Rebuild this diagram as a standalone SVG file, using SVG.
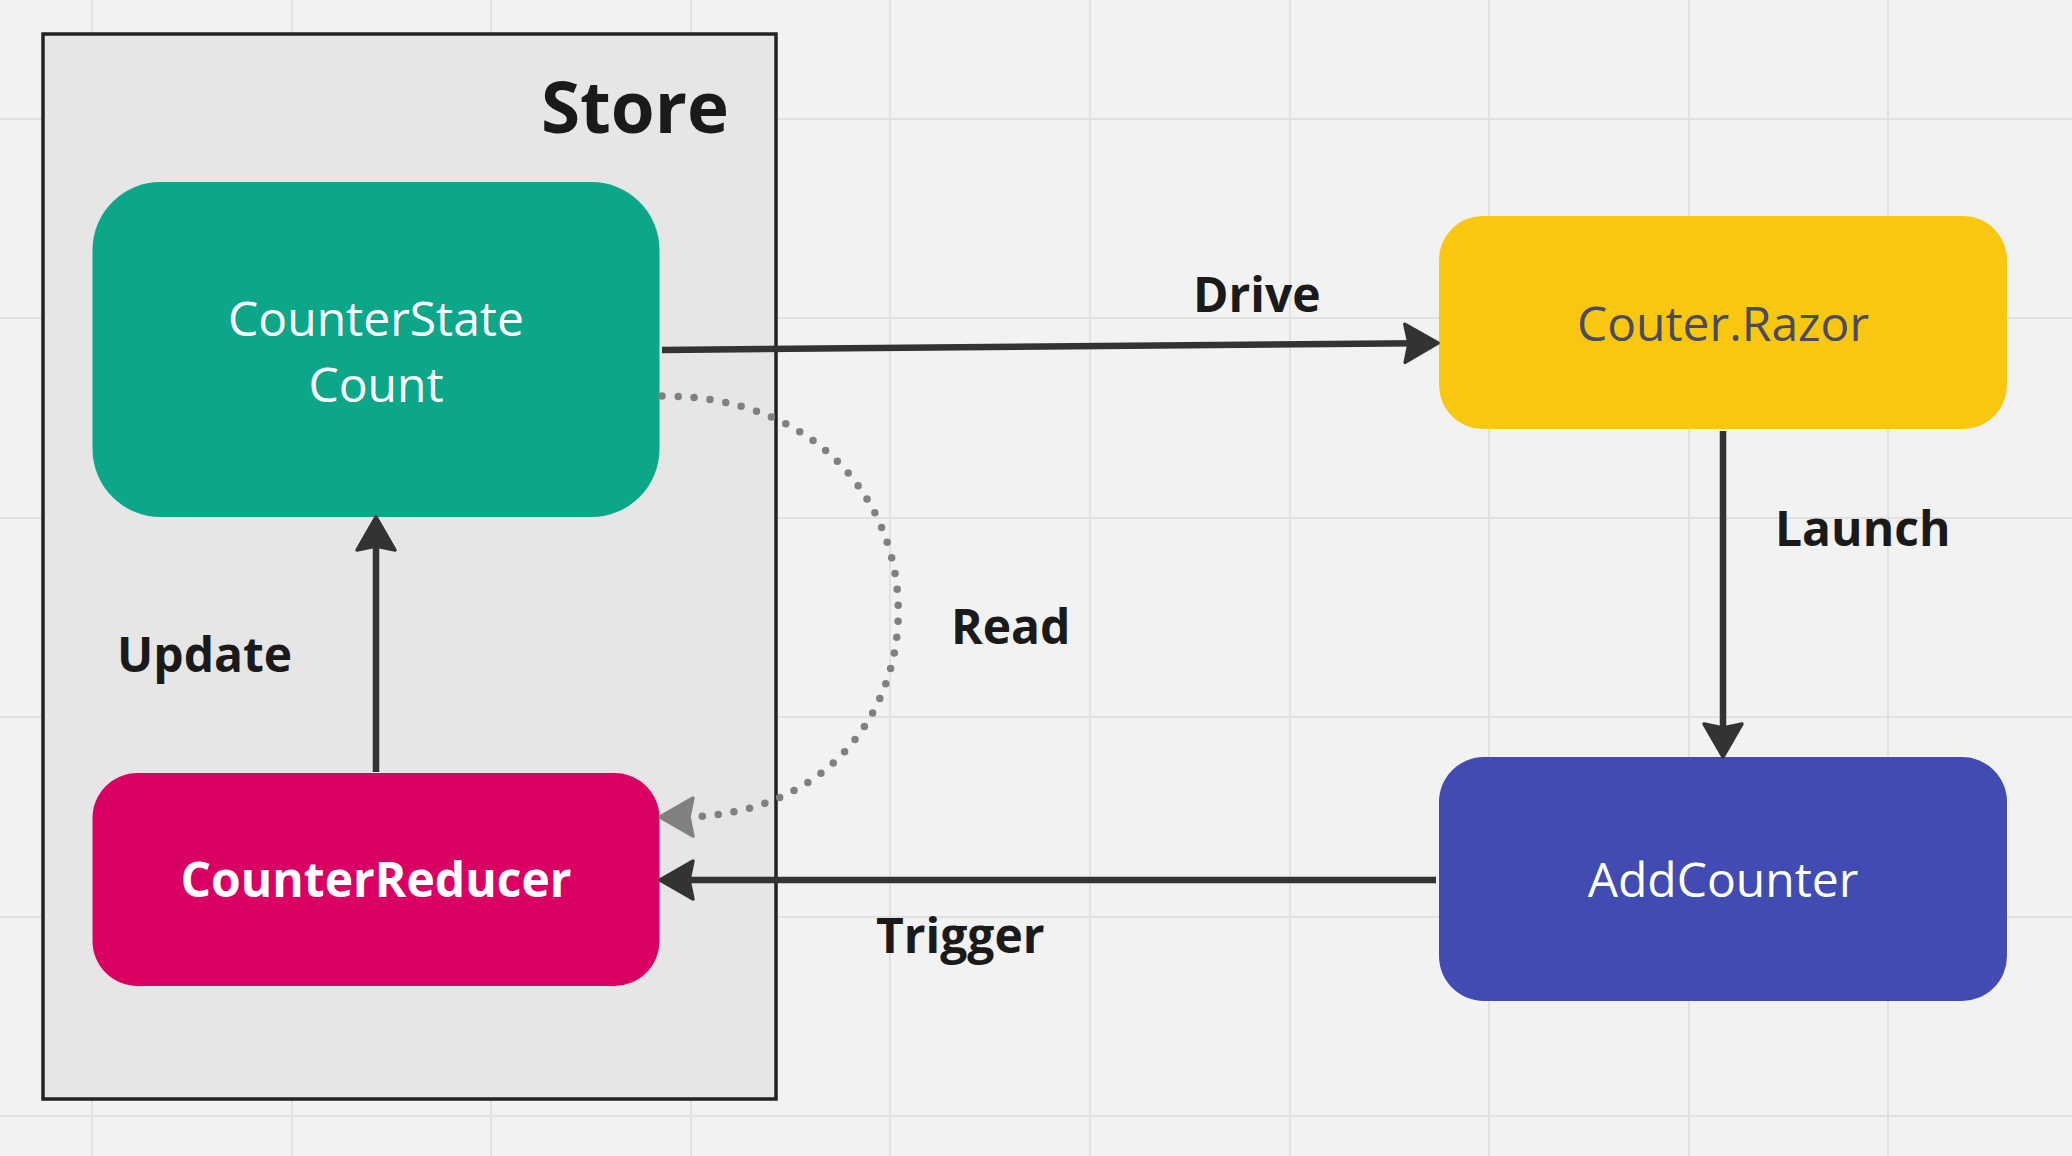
<svg xmlns="http://www.w3.org/2000/svg" width="2072" height="1156" viewBox="0 0 2072 1156">
<style>
.grid line{stroke:#e1e1e1;stroke-width:2}
.nt{font-family:"Open Sans","Noto Sans","Liberation Sans",sans-serif;font-size:48px;text-anchor:middle}
.lbl{font-family:"Open Sans","Noto Sans","Liberation Sans",sans-serif;font-size:48px;font-weight:700;fill:#1a1a1a}
.conn{fill:none;stroke:#333333;stroke-width:6.5}
</style>
<defs>
<marker id="ah" viewBox="-2 -2 40 46" markerWidth="40" markerHeight="46" refX="14" refY="21" orient="auto" markerUnits="userSpaceOnUse" overflow="visible">
<path d="M1,2 L34,21 L1,40 L5,21 Z" fill="#333333" stroke="#333333" stroke-width="3.5" stroke-linejoin="round"/>
</marker>
<marker id="ahg" viewBox="-2 -2 40 46" markerWidth="40" markerHeight="46" refX="14" refY="21" orient="auto" markerUnits="userSpaceOnUse" overflow="visible">
<path d="M1,2 L34,21 L1,40 L5,21 Z" fill="#808080" stroke="#808080" stroke-width="3.5" stroke-linejoin="round"/>
</marker>
</defs>
<rect x="0" y="0" width="2072" height="1156" fill="#f2f2f2"/>
<g class="grid">
<line x1="92" y1="0" x2="92" y2="1156"/>
<line x1="292" y1="0" x2="292" y2="1156"/>
<line x1="491" y1="0" x2="491" y2="1156"/>
<line x1="691" y1="0" x2="691" y2="1156"/>
<line x1="890" y1="0" x2="890" y2="1156"/>
<line x1="1090" y1="0" x2="1090" y2="1156"/>
<line x1="1290" y1="0" x2="1290" y2="1156"/>
<line x1="1489" y1="0" x2="1489" y2="1156"/>
<line x1="1689" y1="0" x2="1689" y2="1156"/>
<line x1="1888" y1="0" x2="1888" y2="1156"/>
<line x1="0" y1="119" x2="2072" y2="119"/>
<line x1="0" y1="318" x2="2072" y2="318"/>
<line x1="0" y1="518" x2="2072" y2="518"/>
<line x1="0" y1="717" x2="2072" y2="717"/>
<line x1="0" y1="917" x2="2072" y2="917"/>
<line x1="0" y1="1116" x2="2072" y2="1116"/>
</g>
<g id="store">
<rect x="43" y="34" width="733" height="1065" fill="#e6e6e6" stroke="#222222" stroke-width="3.5"/>
<text x="729" y="133" font-family="'Open Sans','Noto Sans','Liberation Sans',sans-serif" font-size="71" font-weight="700" fill="#1a1a1a" text-anchor="end">Store</text>
</g>
<g id="counterstate">
<rect x="92.5" y="182" width="567" height="335" rx="68" ry="68" fill="#0ca789"/>
<text class="nt" x="376" y="336" fill="#ffffff">CounterState</text>
<text class="nt" x="376" y="402" fill="#ffffff">Count</text>
</g>
<g id="counterreducer">
<rect x="92.5" y="773" width="567" height="213" rx="45" ry="45" fill="#da0063"/>
<text class="nt" x="376" y="897" fill="#ffffff" font-weight="700">CounterReducer</text>
</g>
<g id="couterrazor">
<rect x="1439" y="216" width="568" height="213" rx="44" ry="44" fill="#fac710"/>
<text class="nt" x="1723" y="341" fill="#4b4b60">Couter.Razor</text>
</g>
<g id="addcounter">
<rect x="1439" y="757" width="568" height="244" rx="45" ry="45" fill="#414bb2"/>
<text class="nt" x="1723" y="897" fill="#ffffff">AddCounter</text>
</g>
<g id="connectors">
<line class="conn" x1="662" y1="350" x2="1418" y2="343.2" marker-end="url(#ah)"/>
<line class="conn" x1="1723" y1="431" x2="1723" y2="737" marker-end="url(#ah)"/>
<line class="conn" x1="376" y1="772" x2="376" y2="537" marker-end="url(#ah)"/>
<line class="conn" x1="1436" y1="880" x2="680" y2="880" marker-end="url(#ah)"/>
<path d="M662,396 C974,396 974,817 680,817" fill="none" stroke="#808080" stroke-width="7.5" stroke-linecap="round" stroke-dasharray="0 16" marker-end="url(#ahg)"/>
<text class="lbl" x="1193" y="312">Drive</text>
<text class="lbl" x="1775" y="546">Launch</text>
<text class="lbl" x="951" y="644">Read</text>
<text class="lbl" x="117" y="672">Update</text>
<text class="lbl" x="876" y="953">Trigger</text>
</g>
</svg>
